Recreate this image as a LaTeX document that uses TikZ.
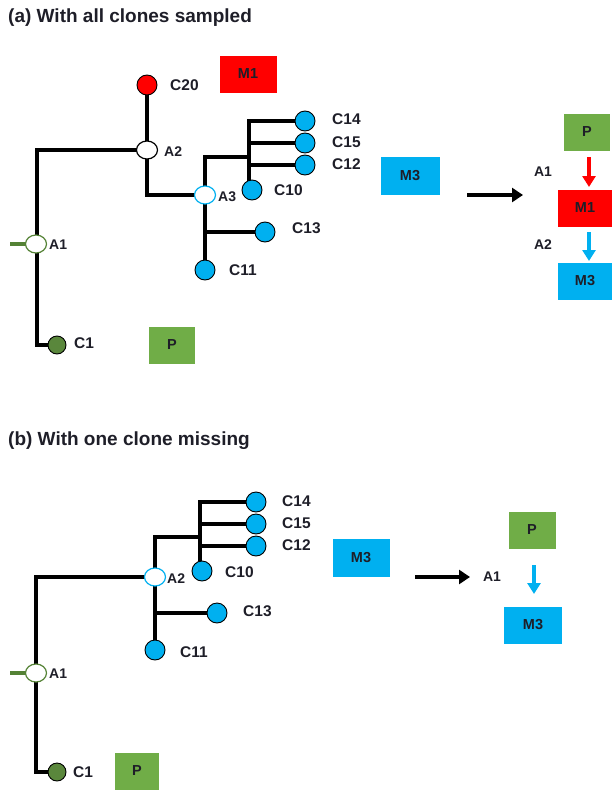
\documentclass[tikz,border=0pt]{standalone}
\usepackage{fontspec}
\setmainfont{Liberation Sans}
\usetikzlibrary{arrows.meta,backgrounds,shapes.geometric}
\definecolor{cred}{RGB}{255,0,0}
\definecolor{cblue}{RGB}{0,176,240}
\definecolor{cgreen}{RGB}{112,173,71}
\definecolor{cdgreen}{RGB}{84,130,53}
\definecolor{cc1}{RGB}{90,135,60}
\definecolor{ctxt}{RGB}{30,30,40}
\tikzset{
  branch/.style={line width=4.2pt,black,line cap=rect},
  stub/.style={line width=4pt,cdgreen},
  leaf/.style={circle,draw=black,line width=0.9pt,minimum size=20pt,inner sep=0pt},
  bleaf/.style={leaf,fill=cblue},
  anc/.style={ellipse,draw=#1,line width=1.2pt,fill=white,minimum width=21pt,minimum height=18pt,inner sep=0pt},
  lbl/.style={font=\fontsize{15.5}{17}\selectfont\bfseries,text=ctxt,inner sep=1pt},
  albl/.style={font=\fontsize{14}{15}\selectfont\bfseries,text=ctxt,inner sep=1pt},
  ttl/.style={font=\fontsize{19}{21}\selectfont\bfseries,text=ctxt,anchor=west,inner sep=0pt},
  box/.style={fill=#1,minimum width=57pt,minimum height=37pt,inner sep=0pt,font=\fontsize{14.5}{16}\selectfont\bfseries,text=ctxt},
  sbox/.style={box=#1,minimum width=46pt},
  bigarrow/.style={line width=4pt,-{Triangle[width=14pt,length=11pt]}},
  smallarrow/.style={line width=4pt,#1,-{Triangle[width=13pt,length=11pt]}},
}
\begin{document}
\begin{tikzpicture}[x=1pt,y=-1pt]
\useasboundingbox (0,0) rectangle (612,790);

% ---------------- (a) ----------------
\node[ttl] (ta) at (8,18) {(a) With all clones sampled};

\coordinate (aTop) at (37,150);
\coordinate (aBot) at (37,345);
\coordinate (aStub) at (10,244);
\coordinate (a2Bend) at (147,195);
\coordinate (a3Top) at (205,157);
\coordinate (a3Mid) at (205,232);
\coordinate (a3Sub) at (249,157);
\coordinate (a3SubTop) at (249,121);
\coordinate (a3y142) at (249,143);
\coordinate (a3y165) at (249,165);

\node[leaf,fill=cred] (C20) at (147,85) {};
\node[lbl,anchor=west] (lC20) at (169,85) {C20};
\node[box=cred] (M1a) at (248,74) {M1};

\node[anc=black] (A2) at (147,150) {};
\node[albl,anchor=west] (lA2) at (163,152) {A2};
\node[anc=cblue] (A3) at (205,195) {};
\node[albl,anchor=west] (lA3) at (217,197) {A3};
\node[anc=cdgreen] (A1) at (36,244) {};
\node[albl,anchor=west] (lA1) at (48,245) {A1};

\node[bleaf] (C14) at (305,121) {};
\node[bleaf] (C15) at (305,143) {};
\node[bleaf] (C12) at (305,165) {};
\node[bleaf] (C10) at (252,190) {};
\node[bleaf] (C13) at (265,232) {};
\node[bleaf] (C11) at (205,270) {};
\node[leaf,fill=cc1,minimum size=18pt] (C1) at (57,345) {};

\node[lbl,anchor=west] (lC14) at (331,119) {C14};
\node[lbl,anchor=west] (lC15) at (331,142) {C15};
\node[lbl,anchor=west] (lC12) at (331,164) {C12};
\node[lbl,anchor=west] (lC10) at (273,190) {C10};
\node[lbl,anchor=west] (lC13) at (291,228) {C13};
\node[lbl,anchor=west] (lC11) at (228,270) {C11};
\node[lbl,anchor=west] (lC1) at (73,343) {C1};

\node[sbox=cgreen] (Pa) at (172,345) {P};
\node[box=cblue,minimum width=59pt,minimum height=38pt] (M3a) at (410,176) {M3};

\coordinate (arA1) at (467,195);
\coordinate (arA2) at (523,195);
\draw[bigarrow] (arA1) -- (arA2);

\node[sbox=cgreen] (Pr) at (587,132) {P};
\node[box=cred,minimum width=54pt] (M1r) at (585,208) {M1};
\node[box=cblue,minimum width=54pt] (M3r) at (585,281) {M3};
\node[albl] (rA1) at (543,172) {A1};
\node[albl] (rA2) at (543,245) {A2};
\coordinate (rArr1s) at (589,157);
\coordinate (rArr1e) at (589,187);
\coordinate (rArr2s) at (589,232);
\coordinate (rArr2e) at (589,261);
\draw[smallarrow=cred] (rArr1s) -- (rArr1e);
\draw[smallarrow=cblue] (rArr2s) -- (rArr2e);

\begin{pgfonlayer}{background}
\draw[branch] (C20.center) -- (A2.center) -- (a2Bend) -- (A3.center);
\draw[branch] (A2.center) -- (aTop) -- (aBot) -- (C1.center);
\draw[branch] (C11.center) -- (a3Top) -- (a3Sub) -- (a3Sub |- C10.center) -- (C10.center);
\draw[branch] (a3SubTop) -- (a3Sub);
\draw[branch] (a3SubTop) -- (C14.center);
\draw[branch] (a3y142) -- (C15.center);
\draw[branch] (a3y165) -- (C12.center);
\draw[branch] (a3Mid) -- (C13.center);
\draw[stub] (aStub) -- (A1.center);
\end{pgfonlayer}

% ---------------- (b) ----------------
\node[ttl] (tb) at (8,441) {(b) With one clone missing};

\coordinate (bTop) at (36,577);
\coordinate (bBot) at (36,772);
\coordinate (bStub) at (10,673);
\coordinate (b2Top) at (155,537);
\coordinate (bSub) at (200,537);
\coordinate (bSubTop) at (200,502);
\coordinate (by525) at (200,524);
\coordinate (by547) at (200,546);
\coordinate (bMid) at (155,613);

\node[anc=cblue] (B2) at (155,577) {};
\node[albl,anchor=west] (lB2) at (166,579) {A2};
\node[anc=cdgreen] (B1) at (36,673) {};
\node[albl,anchor=west] (lB1) at (48,674) {A1};

\node[bleaf] (D14) at (256,502) {};
\node[bleaf] (D15) at (256,524) {};
\node[bleaf] (D12) at (256,546) {};
\node[bleaf] (D10) at (202,571) {};
\node[bleaf] (D13) at (217,613) {};
\node[bleaf] (D11) at (155,650) {};
\node[leaf,fill=cc1,minimum size=18pt] (D1) at (57,772) {};

\node[lbl,anchor=west] (lD14) at (281,501) {C14};
\node[lbl,anchor=west] (lD15) at (281,523) {C15};
\node[lbl,anchor=west] (lD12) at (281,545) {C12};
\node[lbl,anchor=west] (lD10) at (224,572) {C10};
\node[lbl,anchor=west] (lD13) at (242,611) {C13};
\node[lbl,anchor=west] (lD11) at (179,652) {C11};
\node[lbl,anchor=west] (lD1) at (72,772) {C1};

\node[sbox=cgreen,minimum width=44pt] (Pb) at (137,771) {P};
\node[box=cblue,minimum height=38pt] (M3b) at (361,558) {M3};

\coordinate (arB1) at (415,577);
\coordinate (arB2) at (470,577);
\draw[bigarrow] (arB1) -- (arB2);

\node[albl] (bA1) at (492,577) {A1};
\node[sbox=cgreen,minimum width=47pt] (Pbr) at (532,530) {P};
\node[box=cblue,minimum width=58pt] (M3br) at (533,625) {M3};
\coordinate (bArrS) at (534,565);
\coordinate (bArrE) at (534,594);
\draw[smallarrow=cblue] (bArrS) -- (bArrE);

\begin{pgfonlayer}{background}
\draw[branch] (B2.center) -- (bTop) -- (bBot) -- (D1.center);
\draw[branch] (D11.center) -- (b2Top) -- (bSub) -- (bSub |- D10.center) -- (D10.center);
\draw[branch] (bSubTop) -- (bSub);
\draw[branch] (bSubTop) -- (D14.center);
\draw[branch] (by525) -- (D15.center);
\draw[branch] (by547) -- (D12.center);
\draw[branch] (bMid) -- (D13.center);
\draw[stub] (bStub) -- (B1.center);
\end{pgfonlayer}
\end{tikzpicture}
\end{document}
